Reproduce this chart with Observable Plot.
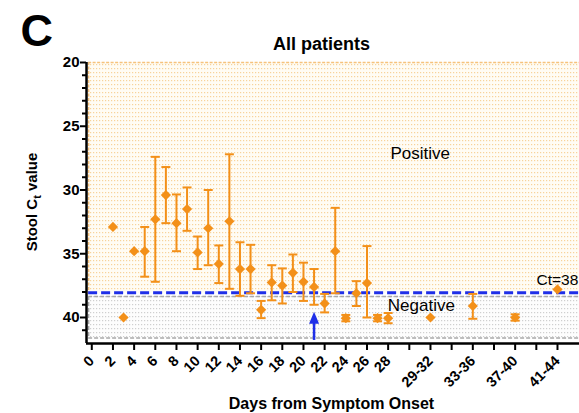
<!DOCTYPE html>
<html><head><meta charset="utf-8">
<script src="https://cdn.jsdelivr.net/npm/d3@7"></script>
<script src="https://cdn.jsdelivr.net/npm/@observablehq/plot@0.6"></script>
<style>body{margin:0;background:#fff} svg{display:block}</style>
</head><body><div id="chart"></div>
<script>
// ---- data ----
const days  = [2, 3, 4, 5, 6, 7, 8, 9, 10, 11, 12, 13, 14, 15, 16, 17, 18, 19, 20, 21, 22, 23, 24, 25, 26, 27, 28, 32, 36, 40, 44];
const means = [32.9, 40.0, 34.8, 34.8, 32.3, 30.4, 32.6, 31.5, 34.9, 33.0, 35.8, 32.45, 36.2, 36.2, 39.4, 37.25, 37.5, 36.5, 37.2, 37.6, 38.9, 34.8, 40.05, 38.1, 37.3, 40.05, 40.05, 40.0, 39.1, 40.0, 37.8];
const lows  = [null, null, null, 32.9, 27.4, 28.2, 30.35, 29.8, 33.65, 30.0, 34.35, 27.2, 34.1, 34.3, 38.7, 35.9, 36.15, 35.06, 35.7, 36.2, 38.15, 31.4, 39.8, 37.15, 34.4, 39.8, 39.65, null, 38.15, 39.75, null];
const highs = [null, null, null, 36.8, 37.2, 32.6, 34.8, 33.2, 36.2, 35.9, 37.3, 37.75, 38.3, 38.1, 40.05, 38.65, 38.9, 38.0, 38.7, 39.0, 39.6, 38.1, 40.3, 39.1, 40.0, 40.3, 40.45, null, 40.1, 40.25, null];
const xTickValues = d3.range(0, 45, 2);
const xTickLabels = ["0","2","4","6","8","10","12","14","16","18","20","22","24","26","28","","29-32","","33-36","","37-40","","41-44"];
const yTickValues = [20, 25, 30, 35, 40];
const yMinorTicks = d3.range(21, 42).filter(v => !yTickValues.includes(v));
const cutoff = 38;
const positiveRange = [20, 38.05];
const negativeRange = [38.35, 41.6];
const arrowDay = 21;
const arrowRange = [39.55, 41.8];

const data = days.map((d, i) => ({day: d, mean: means[i], low: lows[i], high: highs[i]}));
const bars = data.filter(d => d.low != null);

const orange = "#f39019";
const blue = "#1f2fe8";
const xDom = [-0.5, 46.08];
const yDom = [42.04, 20];
const left = -0.3;

const capSymbol = {draw(ctx) { ctx.moveTo(-4.5, 0); ctx.lineTo(4.5, 0); }};
const headSymbol = {draw(ctx) { ctx.moveTo(0, 0); ctx.lineTo(5, 12); ctx.lineTo(-5, 12); ctx.closePath(); }};

const font = "'Liberation Sans', Arial, sans-serif";

const chart = Plot.plot({
  width: 579, height: 413,
  marginLeft: 86, marginRight: 0, marginTop: 62, marginBottom: 70,
  style: {fontFamily: font, color: "#000", background: "#fff", overflow: "visible"},
  x: {domain: xDom},
  y: {domain: yDom},
  marks: [
    Plot.rect([0], {x1: () => left, x2: () => xDom[1], y1: () => positiveRange[0], y2: () => positiveRange[1], fill: "url(#dotO)"}),
    Plot.rect([0], {x1: () => left, x2: () => xDom[1], y1: () => negativeRange[0], y2: () => negativeRange[1], fill: "url(#dotG)"}),
    // region borders
    Plot.ruleY([positiveRange[0]], {x1: left, x2: xDom[1], stroke: "#f6c27c", strokeWidth: 1.5, strokeDasharray: "3,1.5"}),
    Plot.ruleX([left], {y1: positiveRange[0], y2: positiveRange[1], stroke: "#f6c27c", strokeWidth: 1.5, strokeDasharray: "3,1.5"}),
    Plot.ruleY(negativeRange, {x1: left, x2: xDom[1], stroke: "#a8a8a8", strokeWidth: 1.5, strokeDasharray: "4,2"}),
    Plot.ruleX([left], {y1: negativeRange[0], y2: negativeRange[1], stroke: "#a8a8a8", strokeWidth: 1.5, strokeDasharray: "4,2"}),
    // cutoff line
    Plot.ruleY([cutoff + 0.05], {x1: left, x2: xDom[1], stroke: blue, strokeWidth: 3, strokeDasharray: "9,4"}),
    // texts
    Plot.text(["Positive"], {x: () => 28.22, y: () => 27.14, textAnchor: "start", lineAnchor: "middle", fontSize: 17, fill: "#000"}),
    Plot.text(["Negative"], {x: () => 27.97, y: () => 39.08, textAnchor: "start", lineAnchor: "middle", fontSize: 17, fill: "#000"}),
    Plot.text(["Ct=38"], {x: () => 42.02, y: () => 37.05, textAnchor: "start", lineAnchor: "middle", fontSize: 15.5, fill: "#000"}),
    // error bars
    Plot.ruleX(bars, {x: "day", y1: "low", y2: "high", stroke: orange, strokeWidth: 2}),
    Plot.dot(bars, {x: "day", y: "low", symbol: capSymbol, fill: "none", stroke: orange, strokeWidth: 2}),
    Plot.dot(bars, {x: "day", y: "high", symbol: capSymbol, fill: "none", stroke: orange, strokeWidth: 2}),
    Plot.dot(data, {x: "day", y: "mean", symbol: "diamond2", r: 4.6, fill: orange, stroke: "none"}),
    // arrow
    Plot.ruleX([arrowDay], {y1: arrowRange[0] + 0.7, y2: arrowRange[1], stroke: blue, strokeWidth: 2.5}),
    Plot.dot([arrowDay], {x: d => d, y: () => arrowRange[0], symbol: headSymbol, fill: blue, stroke: "none"}),
    // axes
    Plot.axisY({ticks: yTickValues, tickSize: 6, tickPadding: 1, strokeWidth: 2, fontSize: 15, fontWeight: "bold", label: null}),
    Plot.axisY({ticks: yMinorTicks, tickSize: 4, strokeWidth: 2, tickFormat: () => "", label: null}),
    Plot.axisX({ticks: xTickValues, tickSize: 7, tickPadding: 8, strokeWidth: 2, tickRotate: -45, fontSize: 14.5, fontWeight: "bold", label: null,
      tickFormat: d => xTickLabels[xTickValues.indexOf(d)]}),
    Plot.ruleX([xDom[0]], {stroke: "#000", strokeWidth: 2.5}),
    Plot.ruleY([yDom[0]], {stroke: "#000", strokeWidth: 2.5})
  ]
});

const svg = d3.select(chart);
const defs = svg.insert("defs", ":first-child");
const pO = defs.append("pattern").attr("id", "dotO").attr("patternUnits", "userSpaceOnUse").attr("width", 3).attr("height", 4);
pO.append("rect").attr("width", 3).attr("height", 4).attr("fill", "#fffcf4");
pO.append("rect").attr("width", 1.2).attr("height", 1.2).attr("fill", "#f7d39a");
const pG = defs.append("pattern").attr("id", "dotG").attr("patternUnits", "userSpaceOnUse").attr("width", 3).attr("height", 4);
pG.append("rect").attr("width", 3).attr("height", 4).attr("fill", "#fdfdfd");
pG.append("rect").attr("width", 1.2).attr("height", 1.2).attr("fill", "#cfcfcf");

svg.append("text").attr("x", 20.5).attr("y", 46).attr("text-anchor", "start").attr("font-family", font).attr("font-weight", "bold").attr("font-size", 45).text("C");
svg.append("text").attr("x", 321.5).attr("y", 50).attr("text-anchor", "middle").attr("font-family", font).attr("font-weight", "bold").attr("font-size", 18).text("All patients");
const yl = svg.append("text").attr("transform", "translate(36.5,202) rotate(-90)").attr("text-anchor", "middle").attr("font-family", font).attr("font-weight", "bold").attr("font-size", 15);
yl.append("tspan").text("Stool C");
yl.append("tspan").attr("font-size", 11).attr("dy", 4).text("t");
yl.append("tspan").attr("dy", -4).text(" value");
svg.append("text").attr("x", 331.5).attr("y", 409).attr("text-anchor", "middle").attr("font-family", font).attr("font-weight", "bold").attr("font-size", 16).text("Days from Symptom Onset");

document.getElementById("chart").appendChild(chart);
</script>
</body></html>
